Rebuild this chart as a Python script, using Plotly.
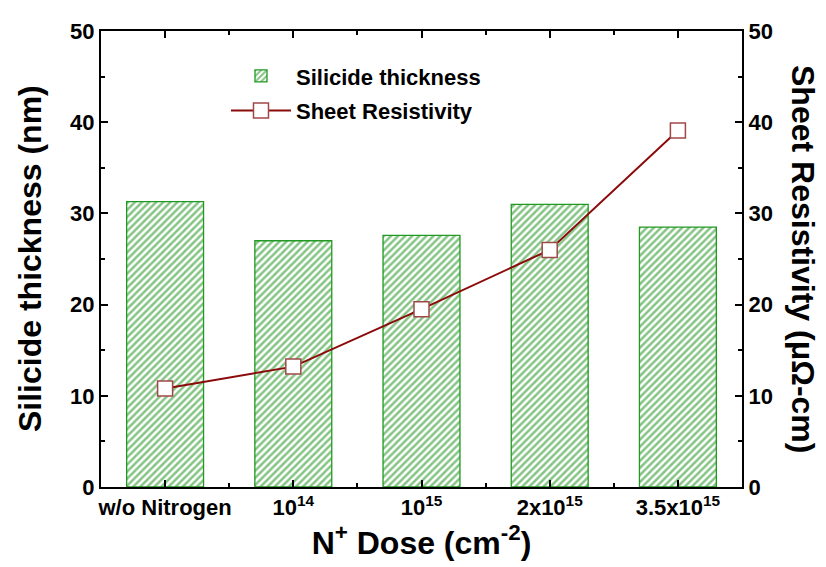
import plotly.graph_objects as go

categories = ["w/o Nitrogen", "10<sup>14</sup>", "10<sup>15</sup>", "2x10<sup>15</sup>", "3.5x10<sup>15</sup>"]
thickness = [31.3, 27.0, 27.6, 31.0, 28.5]
resistivity = [10.8, 13.2, 19.5, 26.0, 39.1]
yticks = [0, 10, 20, 30, 40, 50]

xpos = list(range(len(categories)))
FONT = "Liberation Sans, Arial, sans-serif"
TICK = 22
TITLE = 32

fig = go.Figure()
fig.add_trace(go.Bar(
    x=xpos, y=thickness, width=0.6, name="<b>Silicide thickness</b>",
    legendgroup="a",
    marker=dict(color="white",
                line=dict(color="#229922", width=1.3),
                pattern=dict(shape="/", fgcolor="#0b8a0b", bgcolor="white",
                             size=5, solidity=0.5, fillmode="overlay")),
    yaxis="y",
))
fig.add_trace(go.Scatter(
    x=xpos, y=resistivity, name="<b>Sheet Resistivity</b>", mode="lines+markers",
    legendgroup="b",
    line=dict(color="#8b0a0a", width=2),
    marker=dict(symbol="square", size=15, color="white",
                line=dict(color="#a04848", width=1.5)),
    yaxis="y2",
))

axis_common = dict(showline=True, linecolor="black", linewidth=2, ticks="inside",
                   tickcolor="black", tickwidth=2, ticklen=7, showgrid=False,
                   zeroline=False, tickfont=dict(family=FONT, size=TICK, color="black"))
minor_y = dict(tickmode="array", tickvals=[5, 15, 25, 35, 45], ticks="inside",
               ticklen=4, tickwidth=2, tickcolor="black")

fig.update_layout(
    width=818, height=559,
    margin=dict(l=93, r=84, t=11, b=80),
    paper_bgcolor="white", plot_bgcolor="white",
    font=dict(family=FONT, color="black"),
    xaxis=dict(**axis_common, range=[-0.5, 4.5], tickmode="array", tickvals=xpos,
               ticktext=["<b>%s</b>" % c for c in categories], mirror="ticks",
               minor=dict(tickmode="array", tickvals=[0.5, 1.5, 2.5, 3.5], ticks="inside",
                          ticklen=4, tickwidth=2, tickcolor="black"),
               title=dict(text="<b>N<sup>+</sup> Dose (cm<sup>-2</sup>)</b>",
                          font=dict(family=FONT, size=TITLE, color="black"), standoff=4)),
    yaxis=dict(**axis_common, range=[0, 50], tickmode="array", tickvals=yticks,
               ticktext=["<b>%d</b>" % v for v in yticks], minor=minor_y),
    yaxis2=dict(**axis_common, range=[0, 50], overlaying="y", side="right",
                tickmode="array", tickvals=yticks,
                ticktext=["<b>%d</b>" % v for v in yticks], minor=minor_y),
    legend=dict(x=0.195, y=0.947, xanchor="left", yanchor="top",
                bgcolor="rgba(0,0,0,0)", itemwidth=60, tracegroupgap=3,
                font=dict(family=FONT, size=22, color="black")),
    showlegend=True,
)

fig.add_annotation(
    text="<b>Silicide thickness (nm)</b>", textangle=-90,
    xref="paper", yref="paper", x=0.0, y=0.5, xanchor="center", yanchor="middle",
    xshift=-71, showarrow=False,
    font=dict(family=FONT, size=TITLE, color="black"),
)
fig.add_annotation(
    text="<b>Sheet Resistivity (\u03bc\u03a9-cm)</b>", textangle=90,
    xref="paper", yref="paper", x=1.0, y=0.5, xanchor="center", yanchor="middle",
    xshift=61, showarrow=False,
    font=dict(family=FONT, size=TITLE, color="black"),
)

fig.write_html("out.html")
